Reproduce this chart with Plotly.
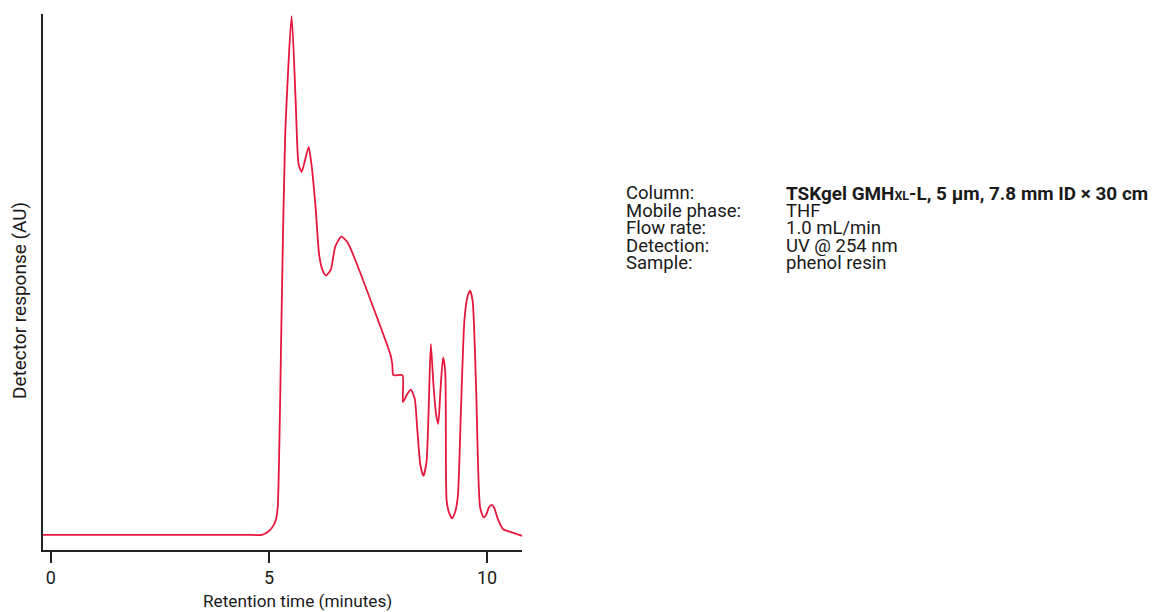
import plotly.graph_objects as go

# Chromatogram trace (retention time in minutes, detector response in relative units)
time_min = [-0.2, 2.0, 4.6, 4.84, 5.0, 5.10, 5.16, 5.20, 5.29, 5.37, 5.52, 5.61, 5.68, 5.75,
            5.82, 5.91, 5.98, 6.07, 6.15, 6.23, 6.31, 6.42, 6.52, 6.66, 6.80, 6.93, 7.34,
            7.79, 7.83, 7.85, 8.06, 8.07, 8.16, 8.25, 8.34, 8.40, 8.47, 8.54, 8.61, 8.66,
            8.71, 8.77, 8.83, 8.88, 8.93, 8.99, 9.04, 9.07, 9.12, 9.20, 9.27, 9.33, 9.40,
            9.48, 9.55, 9.61, 9.67, 9.75, 9.84, 9.92, 9.98, 10.04, 10.11, 10.16, 10.25,
            10.37, 10.53, 10.82]
response = [0.0, 0.0, 0.0, 0.0, 0.75, 1.8, 3.0, 5.3, 43.0, 76.7, 100.0, 84.0, 71.4, 70.0,
            72.0, 74.8, 71.0, 63.0, 54.0, 51.0, 50.0, 51.2, 55.6, 57.5, 56.4, 54.0, 45.0,
            34.6, 32.7, 30.8, 30.8, 25.6, 27.0, 28.0, 26.3, 20.3, 13.5, 11.4, 14.0, 24.0,
            36.8, 29.0, 23.3, 21.4, 27.8, 34.2, 31.6, 6.8, 4.5, 3.2, 4.5, 7.5, 24.0,
            41.4, 45.9, 47.1, 45.0, 27.8, 5.3, 3.4, 3.9, 5.3, 5.8, 5.3, 3.0,
            1.1, 0.6, -0.2]

x_ticks = [0, 5, 10]
x_tick_labels = ["0", "5", "10"]

info_labels = ["Column:", "Mobile phase:", "Flow rate:", "Detection:", "Sample:"]
info_values = [
    "<b>TSKgel GMH<span style='font-size:12.5px'>XL</span>-L, 5 µm, 7.8 mm ID × 30 cm</b>",
    "THF",
    "1.0 mL/min",
    "UV @ 254 nm",
    "phenol resin",
]
info_value_sizes = [18.9, 18.5, 18.5, 18.5, 18.5]

FONT = "Roboto, Liberation Sans Narrow, sans-serif"
RED = "#E5173C"
AXIS = "#222222"
TXT = "#1a1a1a"

# page offset (browser body margin) compensation
OFF = 8
W, H = 1164 - OFF, 612 - OFF
ML, MR, MT, MB = 35, W - 514, 6, H - 542

fig = go.Figure()
fig.add_trace(go.Scatter(
    x=time_min, y=response, mode="lines",
    line=dict(color=RED, width=1.8, shape="spline", smoothing=0.6),
    hoverinfo="skip", showlegend=False,
))

fig.update_layout(
    width=W, height=H,
    margin=dict(l=ML, r=MR, t=MT, b=MB, pad=0),
    paper_bgcolor="white", plot_bgcolor="white",
    font=dict(family=FONT, size=17, color=TXT),
    showlegend=False,
    xaxis=dict(
        range=[-0.18, 10.8], tickvals=x_ticks, ticktext=x_tick_labels,
        showgrid=False, zeroline=False, showline=True, linecolor=AXIS, linewidth=1.5,
        ticks="outside", ticklen=11, tickwidth=1.5, tickcolor=AXIS,
        tickfont=dict(family=FONT, size=18, color=TXT),
    ),
    yaxis=dict(
        range=[-2.9, 100.4], showticklabels=False, ticks="",
        showgrid=False, zeroline=False, showline=True, linecolor=AXIS, linewidth=1.5,
    ),
)

pl, pr, pt, pb = ML, W - MR, MT, H - MB


def px_to_paper(px, py):
    px -= OFF
    py -= OFF
    return (px - pl) / (pr - pl), (pb - py) / (pb - pt)


ax, ay = px_to_paper(297, 601)
fig.add_annotation(text="Retention time (minutes)", x=ax, y=ay, xref="paper", yref="paper",
                   showarrow=False, xanchor="center", yanchor="middle",
                   font=dict(family=FONT, size=17.2, color=TXT))
ax, ay = px_to_paper(19, 301)
fig.add_annotation(text="Detector response (AU)", x=ax, y=ay, xref="paper", yref="paper",
                   showarrow=False, xanchor="center", yanchor="middle", textangle=-90,
                   font=dict(family=FONT, size=19, color=TXT))

row_y = [193.5, 211, 228.3, 245.6, 262.9]
for lab, val, vs, ry in zip(info_labels, info_values, info_value_sizes, row_y):
    lx, ly = px_to_paper(624, ry)
    vx, _ = px_to_paper(784, ry)
    fig.add_annotation(text=lab, x=lx, y=ly, xref="paper", yref="paper", showarrow=False,
                       xanchor="left", yanchor="middle",
                       font=dict(family=FONT, size=18.5, color=TXT))
    fig.add_annotation(text=val, x=vx, y=ly, xref="paper", yref="paper", showarrow=False,
                       xanchor="left", yanchor="middle",
                       font=dict(family=FONT, size=vs, color=TXT))

fig.write_html("out.html")
